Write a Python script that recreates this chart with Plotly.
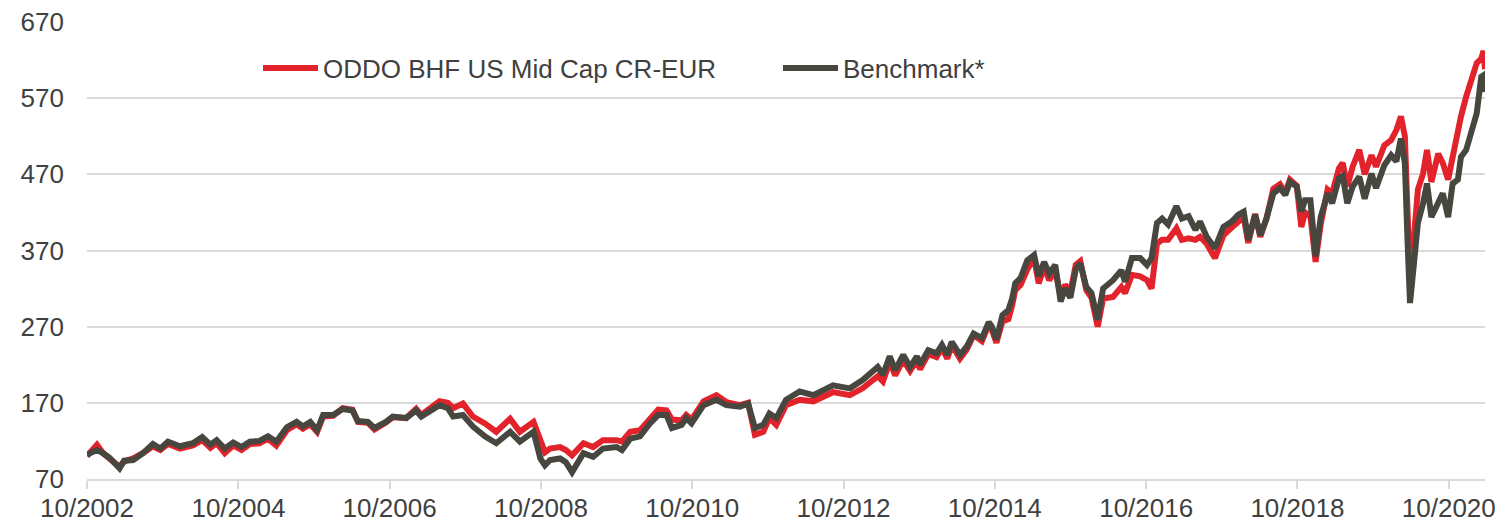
import plotly.graph_objects as go

# ---- data ----
dates = [
    "2002-10-01", "2002-10-31", "2002-11-18", "2002-12-17", "2003-01-18", "2003-02-21",
    "2003-03-07", "2003-03-29", "2003-05-12", "2003-06-28", "2003-08-15", "2003-09-20",
    "2003-10-27", "2003-12-24", "2004-02-24", "2004-04-09", "2004-05-19", "2004-06-18",
    "2004-07-27", "2004-09-06", "2004-10-16", "2004-11-25", "2005-01-11", "2005-02-21",
    "2005-04-02", "2005-05-23", "2005-07-09", "2005-08-08", "2005-09-13", "2005-10-16",
    "2005-11-14", "2006-01-01", "2006-02-17", "2006-04-05", "2006-05-01", "2006-06-18",
    "2006-07-20", "2006-09-13", "2006-10-16", "2006-12-20", "2007-02-06", "2007-03-03",
    "2007-04-13", "2007-05-30", "2007-07-09", "2007-08-04", "2007-09-20", "2007-11-07",
    "2008-01-04", "2008-02-28", "2008-05-05", "2008-06-21", "2008-08-26", "2008-09-28",
    "2008-10-20", "2008-11-14", "2009-01-01", "2009-01-29", "2009-02-28", "2009-04-24",
    "2009-06-10", "2009-07-27", "2009-10-01", "2009-10-27", "2009-12-06", "2010-01-22",
    "2010-03-11", "2010-04-20", "2010-05-30", "2010-06-25", "2010-08-11", "2010-09-02",
    "2010-09-28", "2010-11-25", "2011-01-26", "2011-03-15", "2011-05-19", "2011-06-28",
    "2011-07-31", "2011-09-09", "2011-10-09", "2011-11-11", "2011-12-28", "2012-03-03",
    "2012-05-08", "2012-07-09", "2012-08-11", "2012-10-31", "2013-01-01", "2013-03-15",
    "2013-04-09", "2013-05-12", "2013-06-07", "2013-07-16", "2013-08-18", "2013-09-20",
    "2013-10-05", "2013-11-14", "2013-12-24", "2014-01-19", "2014-02-14", "2014-03-07",
    "2014-04-16", "2014-05-19", "2014-06-21", "2014-07-31", "2014-09-02", "2014-09-17",
    "2014-10-09", "2014-11-07", "2014-12-06", "2014-12-24", "2015-01-08", "2015-02-03",
    "2015-03-07", "2015-04-09", "2015-05-01", "2015-05-27", "2015-06-21", "2015-07-20",
    "2015-08-15", "2015-09-06", "2015-10-01", "2015-10-27", "2015-11-18", "2015-12-17",
    "2016-01-11", "2016-02-10", "2016-03-07", "2016-04-24", "2016-06-03", "2016-06-21",
    "2016-07-24", "2016-09-02", "2016-10-05", "2016-10-27", "2016-11-22", "2016-12-17",
    "2017-01-15", "2017-02-24", "2017-03-22", "2017-04-24", "2017-05-27", "2017-06-18",
    "2017-07-20", "2017-08-29", "2017-10-09", "2017-11-18", "2017-12-20", "2018-01-15",
    "2018-02-06", "2018-03-11", "2018-04-05", "2018-05-05", "2018-06-07", "2018-07-09",
    "2018-08-04", "2018-08-26", "2018-09-28", "2018-10-20", "2018-11-07", "2018-12-03",
    "2018-12-28", "2019-01-22", "2019-02-24", "2019-03-18", "2019-04-20", "2019-05-08",
    "2019-05-30", "2019-06-25", "2019-07-27", "2019-08-22", "2019-09-24", "2019-10-16",
    "2019-11-25", "2019-12-28", "2020-01-22", "2020-02-13", "2020-03-03", "2020-03-17",
    "2020-03-28", "2020-04-16", "2020-05-05", "2020-05-30", "2020-06-18", "2020-07-09",
    "2020-08-11", "2020-09-02", "2020-09-28", "2020-10-20", "2020-11-14", "2020-11-29",
    "2020-12-24", "2021-01-18", "2021-02-13", "2021-03-07", "2021-03-18", "2021-03-25",
]

fund = [
    100, 108, 115, 104, 97, 89,
    86, 93, 97, 104, 113, 108,
    116, 110, 114, 121, 111, 117,
    104, 114, 108, 116, 117, 123,
    114, 134, 142, 136, 142, 132,
    152, 153, 163, 161, 145, 144,
    135, 144, 151, 150, 162, 154,
    162, 172, 170, 163, 169, 152,
    143, 132, 149, 132, 145, 120,
    105, 110, 112, 108, 101, 117,
    112, 121, 121, 119, 132, 134,
    150, 161, 160, 148, 147, 154,
    148, 172, 180, 171, 167, 170,
    128, 132, 150, 141, 167, 174,
    172, 180, 184, 180, 189, 205,
    198, 224, 206, 226, 212, 226,
    214, 234, 230, 242, 228, 246,
    228, 240, 259, 251, 273, 266,
    249, 277, 280, 298, 318, 325,
    345, 360, 327, 348, 331, 344,
    310, 325, 315, 351, 356, 318,
    308, 270, 307, 309, 322, 314,
    338, 336, 331, 320, 379, 384,
    384, 399, 384, 386, 384, 388,
    379, 360, 390, 400, 408, 414,
    380, 418, 388, 412, 451, 457,
    446, 463, 455, 401, 420, 415,
    355, 405, 450, 445, 478, 485,
    454, 480, 502, 470, 495, 480,
    508, 515, 528, 546, 520, 397,
    330, 388, 450, 471, 502, 460,
    497, 485, 463, 493, 528, 546,
    572, 594, 616, 622, 632, 608,
]

benchmark = [
    102, 106, 108, 104, 98, 88,
    84, 94, 95, 104, 116, 110,
    119, 113, 117, 125, 115, 121,
    110, 118, 112, 119, 120, 126,
    119, 138, 145, 139, 145, 134,
    154, 154, 162, 160, 146, 145,
    137, 145, 152, 150, 160, 152,
    158, 167, 163, 152, 154, 139,
    126, 117, 132, 119, 132, 97,
    88, 95, 97, 92, 79, 104,
    99, 110, 112, 108, 123, 126,
    143, 154, 154, 137, 141, 150,
    143, 167, 174, 167, 165, 169,
    137, 141, 156, 150, 174, 185,
    180, 189, 193, 189, 200, 217,
    207, 231, 213, 233, 217, 231,
    220, 239, 235, 246, 233, 250,
    233, 244, 261, 255, 276, 270,
    253, 285, 292, 307, 327, 334,
    357, 364, 336, 355, 340, 351,
    303, 320, 308, 345, 353, 322,
    314, 279, 320, 331, 344, 329,
    360, 360, 351, 360, 406, 412,
    404, 428, 412, 415, 397, 408,
    388, 373, 401, 408, 417, 421,
    384, 417, 390, 412, 445, 452,
    443, 460, 454, 421, 436, 436,
    362, 414, 445, 432, 465, 468,
    432, 454, 467, 438, 471, 452,
    482, 495, 487, 517, 485, 375,
    301, 353, 406, 432, 458, 414,
    432, 445, 414, 458, 463, 493,
    502, 528, 550, 598, 600, 578,
]

x_tick_dates = ["2002-10-01", "2004-10-01", "2006-10-01", "2008-10-01", "2010-10-01",
                "2012-10-01", "2014-10-01", "2016-10-01", "2018-10-01", "2020-10-01"]
x_tick_labels = ["10/2002", "10/2004", "10/2006", "10/2008", "10/2010",
                 "10/2012", "10/2014", "10/2016", "10/2018", "10/2020"]
y_ticks = [70, 170, 270, 370, 470, 570, 670]

series_names = ["ODDO BHF US Mid Cap CR-EUR", "Benchmark*"]
series_colors = ["#e3232c", "#47473f"]

fig = go.Figure()
for name, vals, col in zip(series_names, [fund, benchmark], series_colors):
    fig.add_trace(go.Scatter(x=dates, y=vals, name=name, mode="lines",
                             line=dict(color=col, width=6)))

grid = "#d9d9d9"
fig.update_layout(
    width=1500, height=524,
    margin=dict(l=87, r=15, t=22, b=45),
    plot_bgcolor="white", paper_bgcolor="white",
    font=dict(family="Liberation Sans, Arial, sans-serif", size=26, color="#404040"),
    showlegend=True,
    legend=dict(orientation="h", x=(258 - 87) / 1398, y=(479 - 68) / 457,
                xanchor="left", yanchor="middle", itemwidth=55, entrywidth=450,
                bgcolor="rgba(0,0,0,0)", font=dict(size=26, color="#404040")),
    xaxis=dict(type="date", range=["2002-10-01", "2021-03-25"],
               tickvals=x_tick_dates, ticktext=x_tick_labels,
               ticks="outside", ticklen=8, tickwidth=2, tickcolor=grid,
               showgrid=False, showline=True, linecolor=grid, linewidth=2,
               zeroline=False, automargin=False, ticklabelstandoff=-3),
    yaxis=dict(range=[70, 670], tickvals=y_ticks, showgrid=True, gridcolor=grid,
               gridwidth=2, zeroline=False, ticks="", showline=False,
               ticklabelstandoff=22, automargin=False),
)

fig.write_html("out.html", config={"displayModeBar": False},
               post_script="document.body.style.margin='0';")
